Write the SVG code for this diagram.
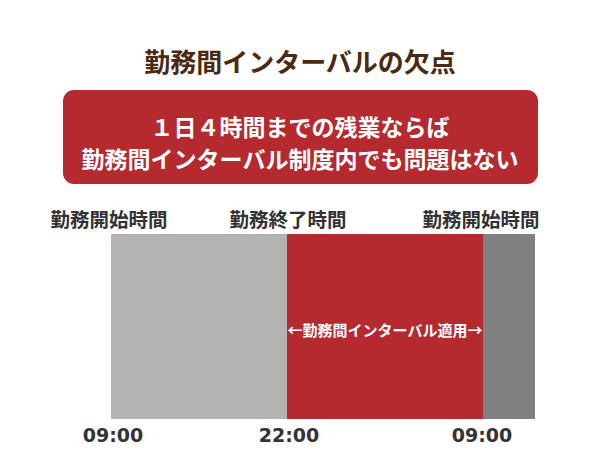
<svg xmlns="http://www.w3.org/2000/svg" width="600" height="450" viewBox="0 0 600 450">
<style>
text{font-family:"Noto Sans CJK JP","Noto Sans",sans-serif;font-weight:bold;text-anchor:middle}
.title{fill:#4a2a12;font-size:26px}
.box{fill:#b52a2e}
.wt{fill:#fff;font-size:23px}
.lbl{fill:#333;font-size:19.5px}
.tm{fill:#333;font-size:19px;font-family:"DejaVu Sans",sans-serif}
.in{fill:#fff;font-size:15px}
</style>
<rect width="600" height="450" fill="#fff"/>
<g id="title"><text class="title" x="300" y="72">勤務間インターバルの欠点</text></g>
<g id="banner">
<rect class="box" x="63" y="90" width="475" height="94" rx="11"/>
<text class="wt" x="300" y="136">１日４時間までの残業ならば</text>
<text class="wt" x="300" y="168">勤務間インターバル制度内でも問題はない</text>
</g>
<g id="work">
<rect x="111" y="234" width="177" height="185" fill="#b3b3b3"/>
</g>
<g id="interval">
<rect x="287" y="234" width="196" height="185" fill="#b52a2e"/>
<text class="in" x="385" y="336">←勤務間インターバル適用→</text>
</g>
<g id="next">
<rect x="483" y="234" width="52" height="185" fill="#808080"/>
</g>
<g id="labels">
<text class="lbl" x="109" y="227">勤務開始時間</text>
<text class="lbl" x="288" y="227">勤務終了時間</text>
<text class="lbl" x="481" y="227">勤務開始時間</text>
<text class="tm" x="113" y="442">09:00</text>
<text class="tm" x="289" y="442">22:00</text>
<text class="tm" x="482" y="442">09:00</text>
</g>
<g id="connectors"></g>
</svg>
